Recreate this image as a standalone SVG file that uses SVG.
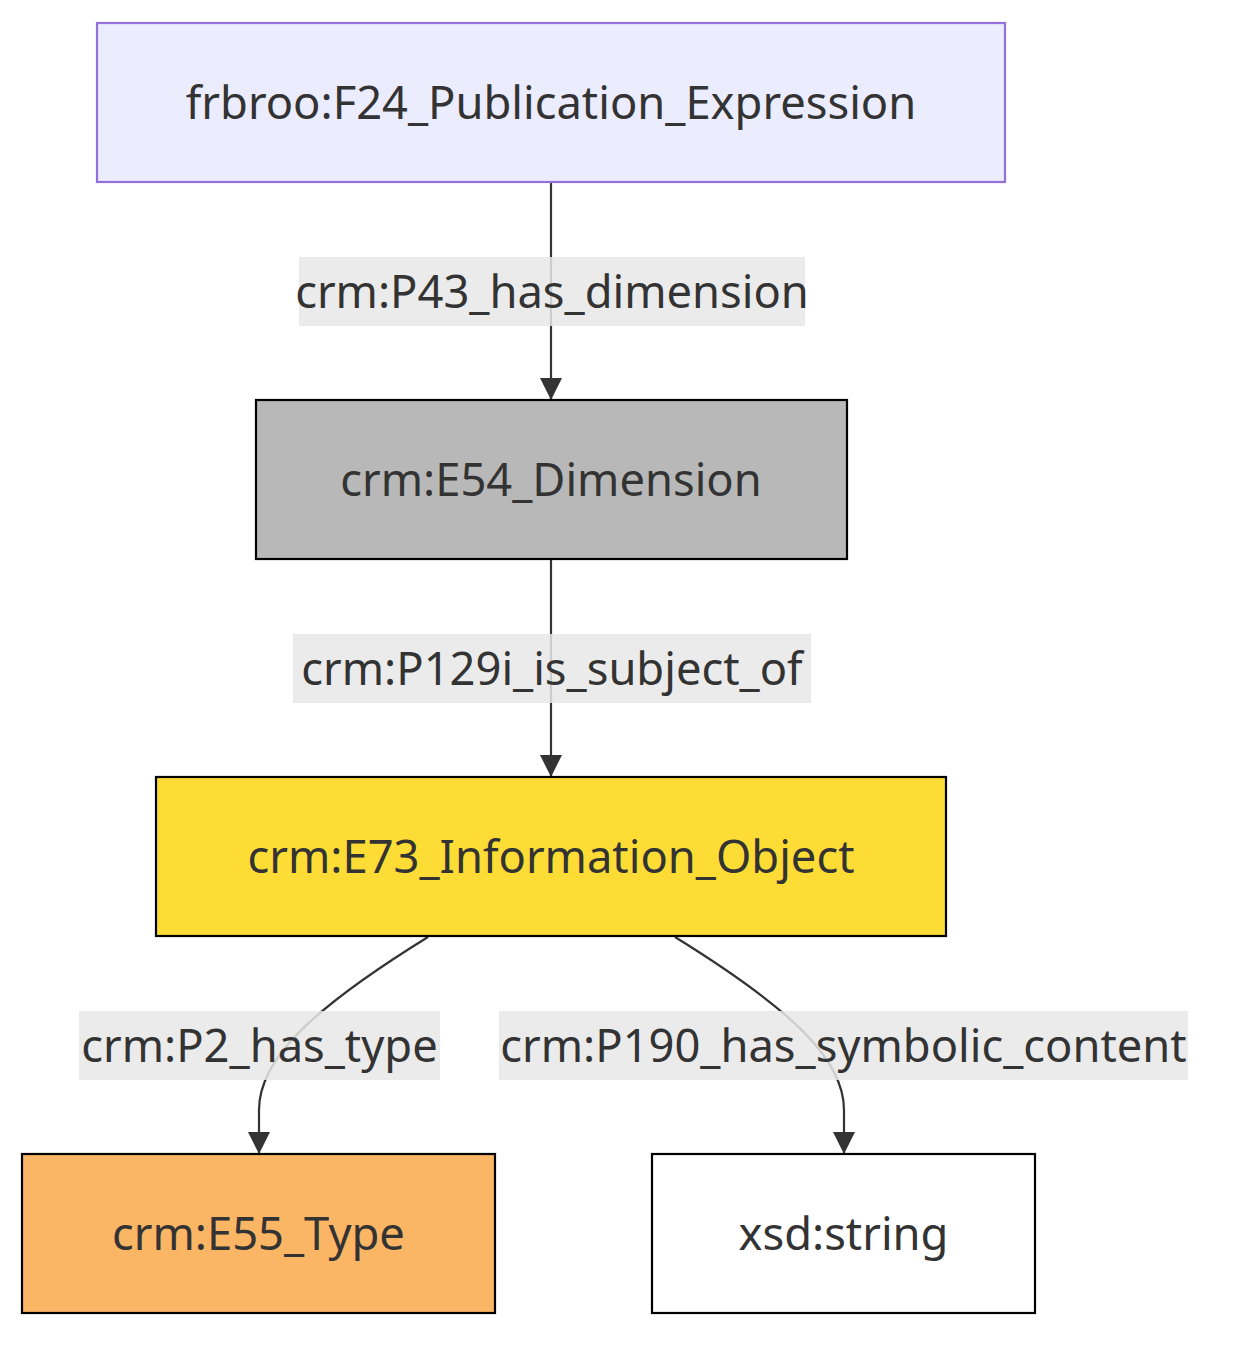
<svg xmlns="http://www.w3.org/2000/svg" width="1236" height="1362" viewBox="0 0 1236 1362">
<style>
.node rect{stroke-width:2.2}
.t{font-family:"Noto Sans","Open Sans",sans-serif;font-size:45.3px;fill:#333;text-anchor:middle;dominant-baseline:central}
.edge{fill:none;stroke:#333;stroke-width:2.2}
.lbg{fill:#e8e8e8;opacity:0.85}
</style>
<defs>
<marker id="arrow" viewBox="0 0 24 22" refX="22" refY="11" markerWidth="24" markerHeight="22" markerUnits="userSpaceOnUse" orient="auto">
<path d="M0,0 L22,11 L0,22 z" fill="#333"/>
</marker>
</defs>
<rect width="1236" height="1362" fill="#fff"/>
<g id="connectors">
<path class="edge" d="M551,182 L551,400" marker-end="url(#arrow)"/>
<path class="edge" d="M551,559 L551,777" marker-end="url(#arrow)"/>
<path class="edge" d="M428,937 C310,1010 259,1060 259,1110 L259,1154" marker-end="url(#arrow)"/>
<path class="edge" d="M675,937 C793,1010 844,1060 844,1110 L844,1154" marker-end="url(#arrow)"/>
</g>
<g id="edge-labels">
<g id="label-p43"><rect class="lbg" x="299" y="257" width="506" height="69"/><text class="t" x="552" y="290">crm:P43_has_dimension</text></g>
<g id="label-p129i"><rect class="lbg" x="293" y="634" width="518" height="69"/><text class="t" x="552" y="667">crm:P129i_is_subject_of</text></g>
<g id="label-p2"><rect class="lbg" x="79" y="1011" width="361" height="69"/><text class="t" x="259.5" y="1044">crm:P2_has_type</text></g>
<g id="label-p190"><rect class="lbg" x="499" y="1011" width="689" height="69"/><text class="t" x="843.5" y="1044">crm:P190_has_symbolic_content</text></g>
</g>
<g id="node-f24" class="node"><rect x="97" y="23" width="908" height="159" fill="#ECECFF" stroke="#9370DB"/><text class="t" x="551" y="101">frbroo:F24_Publication_Expression</text></g>
<g id="node-e54" class="node"><rect x="256" y="400" width="591" height="159" fill="#B8B8B8" stroke="#000"/><text class="t" x="551" y="478">crm:E54_Dimension</text></g>
<g id="node-e73" class="node"><rect x="156" y="777" width="790" height="159" fill="#FDDD35" stroke="#000"/><text class="t" x="551" y="855">crm:E73_Information_Object</text></g>
<g id="node-e55" class="node"><rect x="22" y="1154" width="473" height="159" fill="#FAB565" stroke="#000"/><text class="t" x="258.5" y="1232">crm:E55_Type</text></g>
<g id="node-xsd" class="node"><rect x="652" y="1154" width="383" height="159" fill="#FFFFFF" stroke="#000"/><text class="t" x="843.5" y="1232">xsd:string</text></g>
</svg>
